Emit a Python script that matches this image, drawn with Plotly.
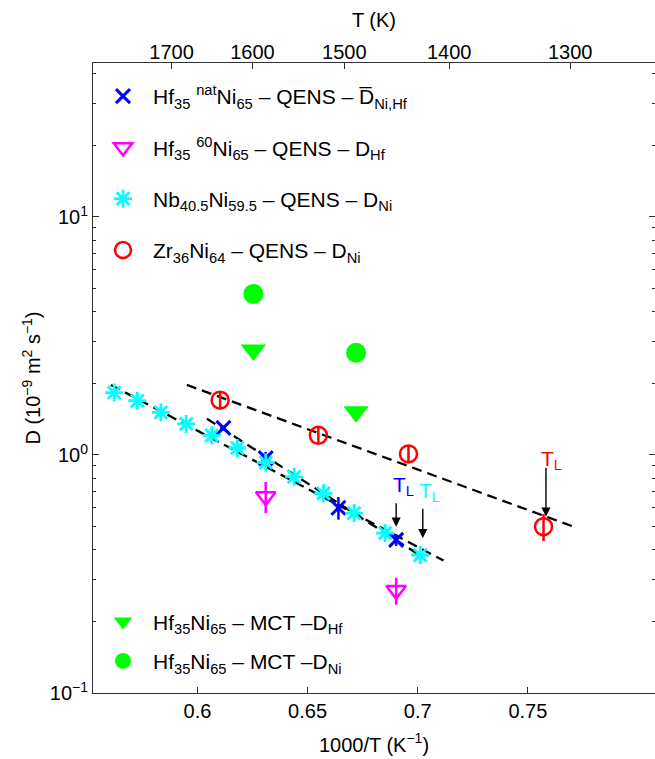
import numpy as np
import plotly.graph_objects as go

# ---------------- data ----------------
# Hf35 natNi65 - QENS - mean D
hfnat_x = [0.6118, 0.6310, 0.6640, 0.6902]
hfnat_d = [1.30, 0.97, 0.60, 0.44]
hfnat_err = [0.03, 0.06, 0.065, 0.025]

# Hf35 60Ni65 - QENS - D_Hf
hf60_x = [0.6310, 0.6902]
hf60_d = [0.67, 0.27]
hf60_err = [0.10, 0.035]

# Nb40.5Ni59.5 - QENS - D_Ni
nb_x = [0.5622, 0.5727, 0.5834, 0.5949, 0.6065, 0.6181, 0.6310, 0.6439,
        0.6572, 0.6711, 0.6852, 0.7011]
nb_d = [1.83, 1.69, 1.51, 1.35, 1.21, 1.07, 0.93, 0.81, 0.69, 0.57, 0.47, 0.38]

# Zr36Ni64 - QENS - D_Ni
zr_x = [0.6103, 0.6549, 0.6958, 0.7571]
zr_d = [1.70, 1.21, 1.01, 0.50]
zr_err = [0.13, 0.09, 0.08, 0.065]

# Hf35Ni65 - MCT
mct_x = [0.6254, 0.6720]
mct_dhf = [2.76, 1.52]
mct_dni = [4.75, 2.69]

# Arrhenius fit lines (end points)
fit_zr_x = [0.5952, 0.7707]
fit_zr_d = [1.97, 0.50]
fit_nb_x = [0.5607, 0.7117]
fit_nb_d = [1.97, 0.36]
fit_hf_x = [0.6043, 0.7011]
fit_hf_d = [1.42, 0.378]

# liquidus temperature markers
tl_x = [0.6902, 0.7023, 0.7582]
tl_d = [0.50, 0.447, 0.551]

# axis ticks
x_ticks = [0.6, 0.65, 0.7, 0.75]
x_ticktext = ["0.6", "0.65", "0.7", "0.75"]
T_ticks = [1700, 1600, 1500, 1400, 1300]
y_ticks = [0.1, 1, 10]
y_ticktext = ["10<sup>−1</sup>", "10<sup>0</sup>", "10<sup>1</sup>"]
y_minor = [0.2, 0.3, 0.4, 0.5, 0.6, 0.7, 0.8, 0.9,
           2, 3, 4, 5, 6, 7, 8, 9, 20, 30, 40]

BLUE = "#0000ff"
MAG = "#ff00ff"
CYAN = "#00ffff"
RED = "#ff0000"
GREEN = "#00ff00"
FONT = "Liberation Sans, Arial, Helvetica, sans-serif"

XR = [0.5526, 0.8077]
YR = [-1, 1.647]

fig = go.Figure()

dash = "10px,6px"
for fx, fd in [(fit_nb_x, fit_nb_d), (fit_hf_x, fit_hf_d), (fit_zr_x, fit_zr_d)]:
    fig.add_trace(go.Scatter(x=fx, y=fd, mode="lines", showlegend=False,
                             line=dict(color="black", width=2.3, dash=dash),
                             hoverinfo="skip"))

fig.add_trace(go.Scatter(
    x=hfnat_x, y=hfnat_d, mode="markers", legend="legend", legendgroup="a",
    name="Hf<sub>35</sub> <sup>nat</sup>Ni<sub>65</sub> – QENS – D\u0305<sub>Ni,Hf</sub>",
    marker=dict(symbol="x-thin-open", size=14, color=BLUE, line=dict(color=BLUE, width=3)),
    error_y=dict(type="data", array=hfnat_err, color=BLUE, thickness=2.5, width=0)))

fig.add_trace(go.Scatter(
    x=hf60_x, y=hf60_d, mode="markers", legend="legend", legendgroup="b",
    name="Hf<sub>35</sub> <sup>60</sup>Ni<sub>65</sub> – QENS – D<sub>Hf</sub>",
    marker=dict(symbol="triangle-down-open", size=17, color=MAG, line=dict(color=MAG, width=2.5)),
    error_y=dict(type="data", array=hf60_err, color=MAG, thickness=2.5, width=0)))

fig.add_trace(go.Scatter(
    x=nb_x, y=nb_d, mode="markers", legend="legend", legendgroup="c",
    name="Nb<sub>40.5</sub>Ni<sub>59.5</sub> – QENS – D<sub>Ni</sub>",
    marker=dict(symbol="asterisk-open", size=15, color=CYAN, line=dict(color=CYAN, width=2.8))))

fig.add_trace(go.Scatter(
    x=zr_x, y=zr_d, mode="markers", legend="legend", legendgroup="d",
    name="Zr<sub>36</sub>Ni<sub>64</sub> – QENS – D<sub>Ni</sub>",
    marker=dict(symbol="circle-open", size=17, color=RED, line=dict(color=RED, width=2.5)),
    error_y=dict(type="data", array=zr_err, color=RED, thickness=2.5, width=0)))

fig.add_trace(go.Scatter(
    x=mct_x, y=mct_dhf, mode="markers", legend="legend2", legendgroup="e",
    name="Hf<sub>35</sub>Ni<sub>65</sub> – MCT –D<sub>Hf</sub>",
    marker=dict(symbol="triangle-down", size=22, color=GREEN, line=dict(width=0))))

fig.add_trace(go.Scatter(
    x=mct_x, y=mct_dni, mode="markers", legend="legend2", legendgroup="f",
    name="Hf<sub>35</sub>Ni<sub>65</sub> – MCT –D<sub>Ni</sub>",
    marker=dict(symbol="circle", size=20, color=GREEN, line=dict(width=0))))

# empty trace to carry the top temperature axis
fig.add_trace(go.Scatter(x=[], y=[], xaxis="x2", showlegend=False, hoverinfo="skip"))

# T_L arrows and labels
tl_colors = [BLUE, CYAN, RED]
tl_tail = [-25, -31, -50]
tl_xshift = [7, 7, 6]
tl_yshift = [41, 46, 57]
for xv, dv, c, tail, xs, ys in zip(tl_x, tl_d, tl_colors, tl_tail, tl_xshift, tl_yshift):
    fig.add_annotation(x=xv, y=np.log10(dv), xref="x", yref="y", text="",
                       showarrow=True, ax=0, ay=tail, arrowhead=2, arrowsize=1.3,
                       arrowwidth=1.4, arrowcolor="black")
    fig.add_annotation(x=xv, y=np.log10(dv), xref="x", yref="y",
                       text="T<sub>L</sub>", showarrow=False, xshift=xs, yshift=ys,
                       font=dict(color=c, size=21, family=FONT))

axis_common = dict(showline=True, linecolor="#333", linewidth=1, showgrid=False,
                   zeroline=False, ticks="inside", tickcolor="#333", automargin=False,
                   tickfont=dict(size=20, family=FONT, color="black"))

fig.update_layout(
    width=655, height=759,
    margin=dict(l=93, r=0, t=63, b=66, autoexpand=False),
    plot_bgcolor="white", paper_bgcolor="white",
    font=dict(family=FONT, size=20, color="black"),
    xaxis=dict(range=XR, tickvals=x_ticks, ticktext=x_ticktext, ticklen=6,
               title=dict(text="1000/T (K<sup>−1</sup>)", font=dict(size=20), standoff=16),
               **axis_common),
    xaxis2=dict(range=XR, overlaying="x", side="top", anchor="y",
                tickvals=[1000.0 / t for t in T_ticks], ticktext=[str(t) for t in T_ticks],
                ticklen=6, ticklabelstandoff=-5,
                title=dict(text="T (K)", font=dict(size=20), standoff=8),
                **axis_common),
    yaxis=dict(type="log", range=YR, tickvals=y_ticks, ticktext=y_ticktext, ticklen=6,
               mirror="ticks",
               minor=dict(tickvals=y_minor, ticks="inside", ticklen=3, tickcolor="#333"),
               title=dict(text="D (10<sup>−9</sup> m<sup>2</sup> s<sup>−1</sup>)",
                          font=dict(size=20), standoff=3),
               **axis_common),
    legend=dict(x=0.0, y=0.9795, xanchor="left", yanchor="top",
                bgcolor="rgba(0,0,0,0)", font=dict(size=21, family=FONT),
                tracegroupgap=21, itemsizing="trace", itemwidth=50),
    legend2=dict(x=0.0, y=0.1453, xanchor="left", yanchor="top",
                 bgcolor="rgba(0,0,0,0)", font=dict(size=21, family=FONT),
                 tracegroupgap=9, itemsizing="trace", itemwidth=50),
    showlegend=True,
)

fig.write_html("out.html", config={"displayModeBar": False},
               post_script="document.body.style.margin='0';")
